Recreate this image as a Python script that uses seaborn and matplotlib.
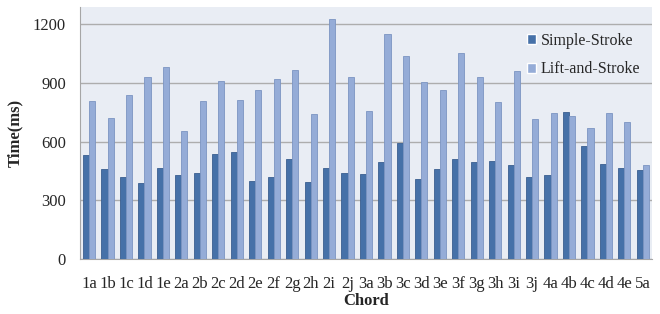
import numpy as np
import pandas as pd
import matplotlib
matplotlib.use('Agg')
import matplotlib.pyplot as plt
import seaborn as sns

# chord labels and mean times (ms)
chords = ['1a', '1b', '1c', '1d', '1e', '2a', '2b', '2c', '2d', '2e', '2f',
          '2g', '2h', '2i', '2j', '3a', '3b', '3c', '3d', '3e', '3f', '3g',
          '3h', '3i', '3j', '4a', '4b', '4c', '4d', '4e', '5a']
simple_stroke = [529, 458, 420, 390, 463, 429, 439, 538, 546, 398, 417,
                 512, 395, 466, 439, 432, 497, 591, 410, 458, 512, 494,
                 500, 480, 417, 429, 752, 577, 485, 463, 456]
lift_and_stroke = [807, 720, 836, 928, 980, 652, 805, 907, 812, 864, 917,
                   966, 739, 1224, 931, 756, 1147, 1035, 904, 865, 1050, 931,
                   802, 958, 713, 745, 732, 667, 744, 700, 482]
methods = ['Simple-Stroke', 'Lift-and-Stroke']
y_ticks = [0, 300, 600, 900, 1200]

df = pd.DataFrame({
    'Chord': chords * 2,
    'Method': [methods[0]] * len(chords) + [methods[1]] * len(chords),
    'Time': simple_stroke + lift_and_stroke,
})

sns.set_style('white')
plt.rcParams['font.family'] = ['Liberation Serif', 'DejaVu Serif']

fig = plt.figure(figsize=(6.6, 3.14), dpi=100)
ax = fig.add_axes([0.121, 0.175, 0.867, 0.803])
ax.set_facecolor('#E9EDF4')

palette = {methods[0]: '#4671A8', methods[1]: '#95ACD7'}
sns.barplot(data=df, x='Chord', y='Time', hue='Method', palette=palette,
            width=0.66, saturation=1, ax=ax, zorder=3)

# darker outlines like the original
edge = {methods[0]: '#3A5F90', methods[1]: '#7C95C2'}
for cont, m in zip(ax.containers, methods):
    for bar in cont:
        bar.set_edgecolor(edge[m])
        bar.set_linewidth(0.6)

ax.set_ylim(0, 1287)
ax.set_xlim(-0.5, len(chords) - 0.5)
ax.set_yticks(y_ticks)
ax.yaxis.grid(True, color='#ADADAD', linewidth=1, zorder=0)
ax.set_axisbelow(True)

# category boundary ticks on x axis
ax.set_xticks(np.arange(len(chords)))
ax.set_xticklabels(chords)
ax.set_xticks(np.arange(-0.5, len(chords), 1), minor=True)
ax.tick_params(axis='x', which='major', length=0, labelsize=12, pad=12)
ax.tick_params(axis='x', which='minor', length=5, color='#A6A6A6', direction='out')
ax.tick_params(axis='y', length=5, color='#A6A6A6', labelsize=12, direction='out', pad=5)

for s in ['top', 'right']:
    ax.spines[s].set_visible(False)
for s in ['left', 'bottom']:
    ax.spines[s].set_color('#A6A6A6')

ax.set_xlabel('Chord', fontsize=12, fontweight='bold', labelpad=1)
ax.set_ylabel('Time(ms)', fontsize=12, fontweight='bold', labelpad=7)

ax.legend(loc='upper left', bbox_to_anchor=(0.757, 0.955), frameon=False,
          fontsize=11.5, handlelength=0.55, handleheight=0.55, handletextpad=0.3,
          labelspacing=0.8)

fig.savefig('out.png', dpi=100)
